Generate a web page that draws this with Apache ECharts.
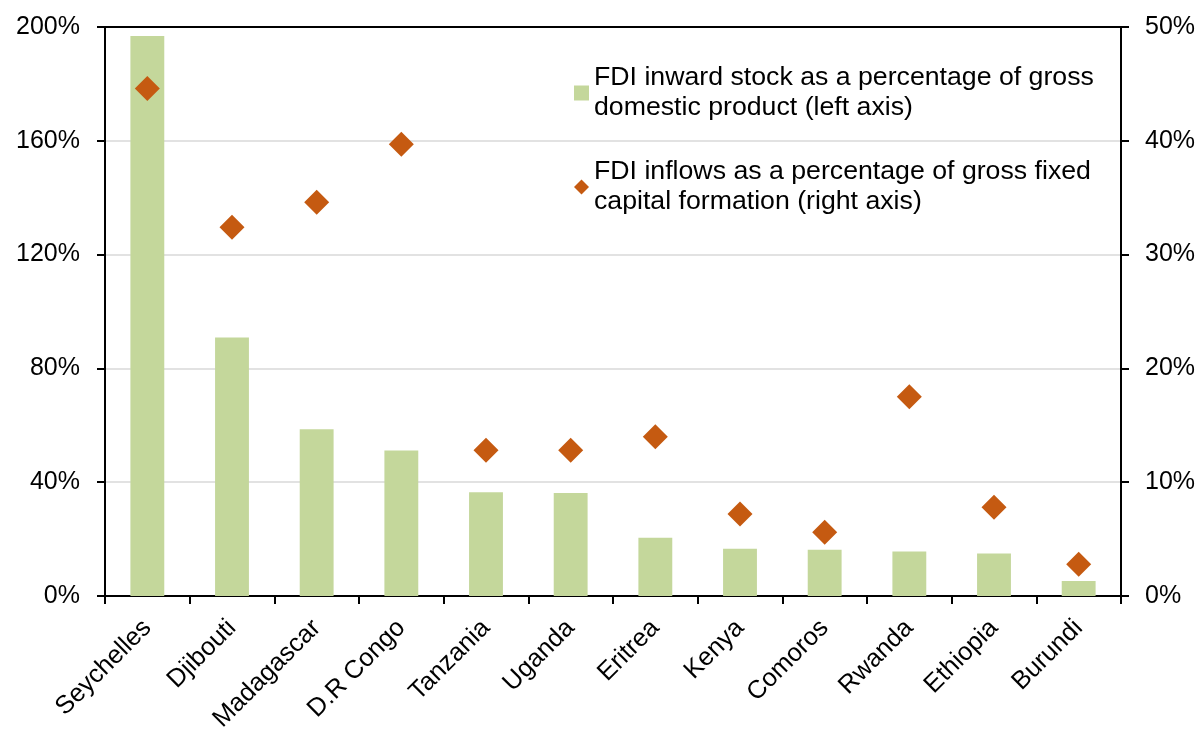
<!DOCTYPE html>
<html>
<head>
<meta charset="utf-8">
<script src="https://cdn.jsdelivr.net/npm/echarts@6/dist/echarts.min.js"></script>
<style>
    html, body { margin: 0; padding: 0; background: #fff; }
    #chartFdi { width: 1200px; height: 729px; }
</style>
</head>
<body>
<div id="chartFdi"></div>
<script>
    // countries, in chart order
    var countries = ['Seychelles', 'Djibouti', 'Madagascar', 'D.R Congo', 'Tanzania', 'Uganda',
        'Eritrea', 'Kenya', 'Comoros', 'Rwanda', 'Ethiopia', 'Burundi'];
    // FDI inward stock, % of GDP (left axis)
    var stockGdp = [196.8, 90.9, 58.6, 51.1, 36.5, 36.2, 20.5, 16.6, 16.3, 15.6, 14.9, 5.3];
    // FDI inflows, % of gross fixed capital formation (right axis)
    var inflowsGfcf = [44.6, 32.4, 34.6, 39.7, 12.8, 12.8, 14.0, 7.2, 5.6, 17.5, 7.8, 2.8];

    var nameStock = 'FDI inward stock as a percentage of gross\ndomestic product (left axis)';
    var nameInflow = 'FDI inflows as a percentage of gross fixed\ncapital formation (right axis)';

    var font = '"Liberation Sans", Arial, sans-serif';
    var axisLine = { show: true, onZero: false, lineStyle: { color: '#000', width: 2 } };
    var axisTick = { show: true, length: 8, lineStyle: { color: '#000', width: 2 } };

    var option = {
        animation: false,
        textStyle: { fontFamily: font },
        grid: {
            top: 27,
            left: 105,
            right: 79,
            bottom: 133,
            outerBoundsMode: 'none'
        },
        legend: {
            orient: 'vertical',
            left: 574,
            top: 48,
            padding: 0,
            itemGap: 4,
            itemWidth: 15,
            itemHeight: 15,
            selectedMode: false,
            textStyle: {
                fontFamily: font,
                fontSize: 26.7,
                color: '#000',
                lineHeight: 30,
                // push the 2-line text down so the first line sits beside the icon
                padding: [30, 0, 0, 0]
            },
            data: [
                { name: nameStock, icon: 'rect' },
                { name: nameInflow, icon: 'path://M0,-1L1,0L0,1L-1,0Z' }
            ]
        },
        xAxis: [
            {
                type: 'category',
                data: countries,
                axisLine: axisLine,
                axisTick: axisTick,
                axisLabel: {
                    rotate: 45,
                    fontSize: 25.5,
                    color: '#000',
                    margin: 28,
                    interval: 0
                }
            },
            {
                // plain top border of the plot
                type: 'category',
                position: 'top',
                data: countries,
                axisLine: axisLine,
                axisTick: { show: false },
                axisLabel: { show: false }
            }
        ],
        yAxis: [
            {
                type: 'value',
                position: 'left',
                min: 0,
                max: 200,
                interval: 40,
                axisLine: axisLine,
                axisTick: axisTick,
                axisLabel: {
                    formatter: '{value}%',
                    fontSize: 25,
                    color: '#000',
                    margin: 25
                },
                splitLine: { show: true, lineStyle: { color: '#d9d9d9', width: 1.5 } }
            },
            {
                type: 'value',
                position: 'right',
                min: 0,
                max: 50,
                interval: 10,
                axisLine: axisLine,
                axisTick: axisTick,
                axisLabel: {
                    formatter: '{value}%',
                    fontSize: 25,
                    color: '#000',
                    margin: 24
                },
                splitLine: { show: false }
            }
        ],
        series: [
            {
                name: nameStock,
                type: 'bar',
                xAxisIndex: 0,
                yAxisIndex: 0,
                barWidth: '40%',
                itemStyle: { color: '#c4d79b' },
                data: stockGdp
            },
            {
                name: nameInflow,
                type: 'scatter',
                xAxisIndex: 0,
                yAxisIndex: 1,
                symbol: 'diamond',
                symbolSize: 25,
                itemStyle: { color: '#c55a11', opacity: 1 },
                z: 5,
                data: inflowsGfcf
            }
        ]
    };

    var myChart = echarts.init(document.getElementById('chartFdi'));
    myChart.setOption(option);
</script>
</body>
</html>
